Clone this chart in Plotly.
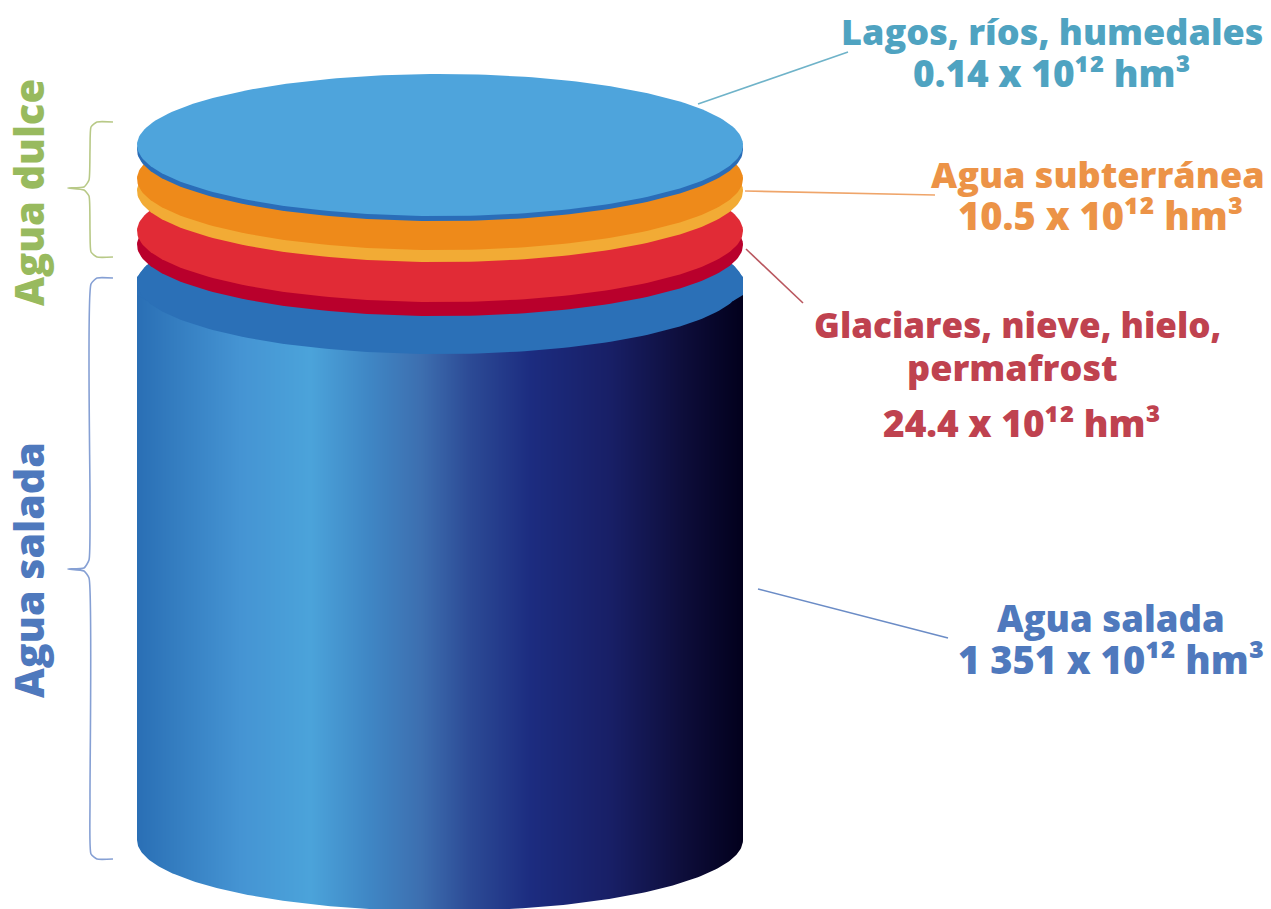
import numpy as np
import plotly.graph_objects as go

# ---- data ----
categories = ["Lagos, ríos, humedales", "Agua subterránea", "Glaciares, nieve, hielo,<br>permafrost", "Agua salada"]
volumes = ["0.14", "10.5", "24.4", "1 351"]
unit = " x 10¹² hm³"
groups = ["Agua dulce", "Agua salada"]

W, H = 1271, 909
CX, RX, RY = 440, 303, 71
FONT = "Open Sans"

# gradient of the cylinder wall
grad_x = [137, 175, 240, 310, 370, 420, 470, 530, 610, 680, 743]
grad_c = ["#2a6fb5", "#347dc0", "#4594d3", "#4ba3da", "#3f86c4", "#3d6fb0", "#2c4a95", "#1c2c80", "#181f66", "#0e0e3c", "#02001c"]

# stacked discs, painted back to front: centre y, colour
discs_cy = [283, 245, 231, 191, 179, 150, 145]
discs_col = ["#2b70b7", "#b9002c", "#e12b36", "#f2ab35", "#ee8a1a", "#2a6db8", "#4ea4dc"]

fig = go.Figure()


def ellipse(cy, n=240):
    t = np.linspace(0, 2 * np.pi, n)
    return CX + RX * np.cos(t), cy + RY * np.sin(t)


def poly(xs, ys, color):
    fig.add_trace(go.Scatter(x=list(xs), y=list(ys), mode="lines", fill="toself",
                             fillcolor=color, line=dict(width=0, color=color),
                             hoverinfo="skip", showlegend=False))


def line(xs, ys, color, width=1.6):
    fig.add_trace(go.Scatter(x=xs, y=ys, mode="lines", line=dict(color=color, width=width, shape="spline", smoothing=0.5),
                             hoverinfo="skip", showlegend=False))


# cylinder wall
span = grad_x[-1] - grad_x[0]
cscale = [[(x - grad_x[0]) / span, c] for x, c in zip(grad_x, grad_c)]
wall_x = np.arange(138, 743, 2)
fig.add_trace(go.Heatmap(x=wall_x, y=[283, 600, 915], z=[wall_x, wall_x], colorscale=cscale,
                         zmin=grad_x[0], zmax=grad_x[-1], zsmooth="best", showscale=False, hoverinfo="skip"))

# white mask gives the rounded bottom
t = np.linspace(np.pi, 0, 200)
arc_x = CX + RX * np.cos(t)
arc_y = 840 + RY * np.sin(t)
poly(np.r_[arc_x, 760, 120, arc_x[0]], np.r_[arc_y, 925, 925, arc_y[0]], "#ffffff")

# cut shoulders of the cylinder cap
poly([137, 147, 147, 137], [277, 265, 301, 295], discs_col[0])
poly([743, 733, 733, 743], [277, 265, 301, 295], discs_col[0])

# discs
for cy, col in zip(discs_cy, discs_col):
    ex, ey = ellipse(cy)
    poly(ex, ey, col)

# leader lines
line([698, 848], [104, 52], "#6fb3c9")
line([745, 935], [191, 195], "#efa56a")
line([746, 803], [249, 303], "#b9575f")
line([758, 948], [589, 638], "#6b8cc6")

# brackets
line([113, 97, 91, 90, 89, 84, 68, 84, 89, 90, 91, 97, 113], [122, 122, 127, 150, 180, 187, 188, 190, 196, 230, 252, 257, 257], "#b8c987")
line([113, 97, 91, 90, 89, 84, 68, 84, 89, 90, 91, 97, 113], [278, 278, 284, 500, 560, 568, 569, 571, 578, 800, 854, 859, 859], "#86a0d4")

# labels
def label(txt, x, y, color, size=36, angle=0):
    fig.add_annotation(x=x, y=y, text=txt, showarrow=False, textangle=angle,
                       font=dict(family=FONT, size=size, color=color, weight=800), xanchor="center", yanchor="middle")


label(categories[0], 1052, 31, "#4fa3c1")
label(volumes[0] + unit, 1051, 72, "#4fa3c1", size=37)
label(categories[1], 1098, 174, "#ec9347")
label(volumes[1] + unit, 1100, 215, "#ec9347", size=38)
first, second = categories[2].split("<br>")
label(first, 1017, 324, "#bf424f", size=35)
label(second, 1012, 367, "#bf424f")
label(volumes[2] + unit, 1021, 422, "#bf424f", size=37)
label(categories[3], 1111, 618, "#4f79bd", size=36.5)
label(volumes[3] + unit, 1111, 659, "#4f79bd", size=38)
label(groups[0], 28, 193, "#98ba5e", size=40, angle=-90)
label(groups[1], 28, 570, "#4f79bd", size=41, angle=-90)

fig.update_xaxes(visible=False, range=[0, W], fixedrange=True)
fig.update_yaxes(visible=False, range=[H, 0], fixedrange=True)
fig.update_layout(width=W, height=H, margin=dict(l=0, r=0, t=0, b=0),
                  paper_bgcolor="#ffffff", plot_bgcolor="#ffffff", showlegend=False)
fig.write_html("out.html", config=dict(displayModeBar=False),
               post_script="document.body.style.margin='0';document.documentElement.style.overflow='hidden';")
